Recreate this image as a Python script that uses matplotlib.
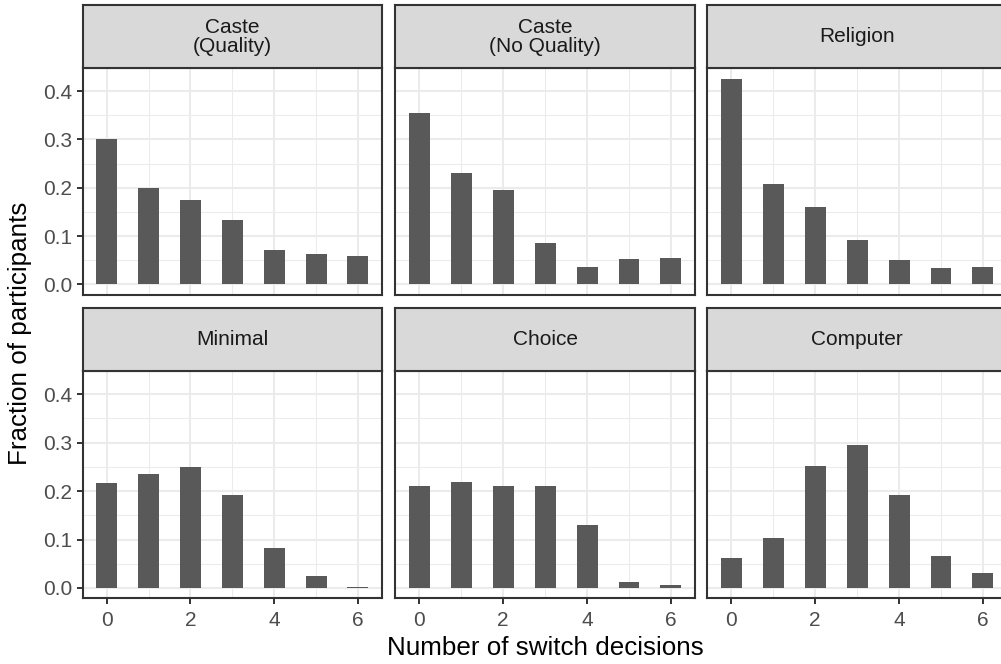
import matplotlib
matplotlib.use('Agg')
import matplotlib.pyplot as plt
import numpy as np

plt.rcParams['font.family'] = ['Liberation Sans', 'DejaVu Sans']

# Data
switches = [0, 1, 2, 3, 4, 5, 6]
panel_titles = ['Caste\n(Quality)', 'Caste\n(No Quality)', 'Religion',
                'Minimal', 'Choice', 'Computer']
caste_quality = [0.300, 0.200, 0.175, 0.134, 0.072, 0.062, 0.058]
caste_no_quality = [0.354, 0.230, 0.195, 0.086, 0.036, 0.053, 0.055]
religion = [0.426, 0.207, 0.160, 0.092, 0.050, 0.034, 0.036]
minimal = [0.216, 0.235, 0.249, 0.191, 0.083, 0.025, 0.003]
choice = [0.210, 0.218, 0.210, 0.210, 0.131, 0.013, 0.007]
computer = [0.061, 0.104, 0.251, 0.295, 0.191, 0.067, 0.030]
series = [caste_quality, caste_no_quality, religion, minimal, choice, computer]

W, H = 1001, 664
fig = plt.figure(figsize=(W / 100, H / 100), dpi=100)


def box(x0, y0, x1, y1):
    # pixel box (top-left origin) -> figure coords
    return [x0 / W, 1 - y1 / H, (x1 - x0) / W, (y1 - y0) / H]


col_x = [(82.7, 382.0), (395.3, 695.0), (707.3, 1007.0)]
row_y = [(5.3, 68.3, 294.7), (308.3, 371.3, 598.3)]

border = '#333333'
grid_col = '#EBEBEB'

for i, (title, vals) in enumerate(zip(panel_titles, series)):
    r, c = divmod(i, 3)
    x0, x1 = col_x[c]
    s0, s1, p1 = row_y[r]

    ax = fig.add_axes(box(x0, s1, x1, p1))
    ax.bar(switches, vals, width=0.5, color='#595959', zorder=3)
    ax.set_xlim(-0.575, 6.575)
    ax.set_ylim(-0.0213, 0.4473)
    ax.set_xticks([0, 2, 4, 6])
    ax.set_xticks([1, 3, 5], minor=True)
    ax.set_yticks([0, 0.1, 0.2, 0.3, 0.4])
    ax.set_yticks([0.05, 0.15, 0.25, 0.35], minor=True)
    ax.set_yticklabels(['0.0', '0.1', '0.2', '0.3', '0.4'])
    ax.grid(which='major', color=grid_col, linewidth=1.45, zorder=0)
    ax.grid(which='minor', color=grid_col, linewidth=0.75, zorder=0)
    ax.set_axisbelow(True)
    for sp in ax.spines.values():
        sp.set_color(border)
        sp.set_linewidth(1.5)
        sp.set_zorder(5)
    ax.tick_params(which='minor', length=0)
    ax.tick_params(which='major', length=4.5, width=1.4, color=border,
                   labelcolor='#4D4D4D', labelsize=15, pad=3)
    ax.tick_params(axis='x', which='major', pad=4.5)
    if c != 0:
        ax.tick_params(axis='y', which='major', length=0, labelleft=False)
    if r != 1:
        ax.tick_params(axis='x', which='major', length=0, labelbottom=False)

    sax = fig.add_axes(box(x0, s0, x1, s1))
    sax.set_facecolor('#D9D9D9')
    sax.set_xticks([])
    sax.set_yticks([])
    for sp in sax.spines.values():
        sp.set_color(border)
        sp.set_linewidth(1.5)
    sax.text(0.5, 0.5, title, ha='center', va='center', fontsize=15,
             color='#1A1A1A', linespacing=1.0, transform=sax.transAxes)

fig.text(545 / W, 1 - 648 / H, 'Number of switch decisions', ha='center',
         va='center', fontsize=18.7, color='black')
fig.text(20 / W, 1 - 333 / H, 'Fraction of participants', ha='center',
         va='center', rotation=90, fontsize=18.7, color='black')

fig.savefig('out.png', dpi=100)
